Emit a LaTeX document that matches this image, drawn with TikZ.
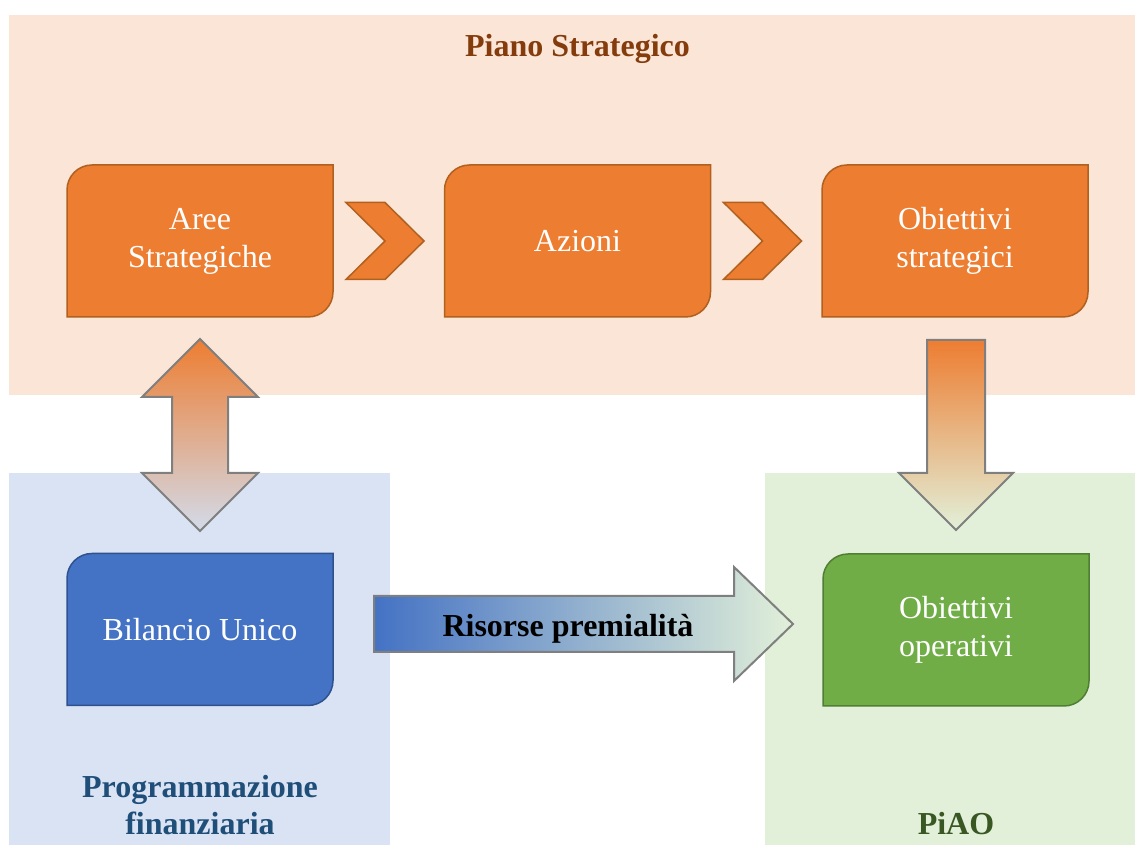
\documentclass[tikz,border=0pt]{standalone}
\usepackage{fontspec}
\setmainfont{Liberation Serif}
\usetikzlibrary{calc,backgrounds}
\definecolor{orangebg}{HTML}{FBE5D6}
\definecolor{bluebg}{HTML}{DAE3F3}
\definecolor{greenbg}{HTML}{E2F0D9}
\definecolor{boxorange}{HTML}{ED7D31}
\definecolor{edgeorange}{HTML}{B0601F}
\definecolor{boxblue}{HTML}{4472C4}
\definecolor{edgeblue}{HTML}{2F528F}
\definecolor{boxgreen}{HTML}{70AD47}
\definecolor{edgegreen}{HTML}{507E32}
\definecolor{titlebrown}{HTML}{843C0C}
\definecolor{titleblue}{HTML}{1F4E79}
\definecolor{titlegreen}{HTML}{385723}
\definecolor{arrowgray}{HTML}{7F7F7F}
\definecolor{arrowblue}{HTML}{D3DBEA}

\begin{document}
\begin{tikzpicture}[x=1pt,y=1pt,
  box/.style={minimum width=266pt,minimum height=152pt,inner sep=0pt,outer sep=0pt,
    align=center,text=white,font=\fontsize{32}{38}\selectfont},
  title/.style={align=center,font=\bfseries\fontsize{32}{37}\selectfont},
  obox/.style={fill=boxorange,draw=edgeorange,line width=1.5pt},
  bbox/.style={fill=boxblue,draw=edgeblue,line width=1.5pt},
  gbox/.style={fill=boxgreen,draw=edgegreen,line width=1.5pt},
  blockarrow/.style={draw=arrowgray,line width=2pt,line join=miter}]
  \useasboundingbox (0,0) rectangle (1135,845);
  % titles
  \node[title,anchor=base,text=titlebrown] (PS) at (577.5,788) {Piano Strategico};
  \node[title,text=titleblue] (PF) at (200,40) {Programmazione\\finanziaria};
  \node[title,anchor=base,text=titlegreen] (PI) at (956,10) {PiAO};
  % boxes
  \node[box] (AS) at (200,604) {Aree\\Strategiche};
  \node[box] (AZ) at (577.5,604) {Azioni};
  \node[box] (OS) at (955,604) {Obiettivi\\strategici};
  \node[box] (BU) at (200,215.5) {Bilancio Unico};
  \node[box] (OO) at (956,215) {Obiettivi\\operativi};
  \begin{scope}[on background layer]
    \fill[orangebg] (9,450) rectangle (1135,830);
    \fill[bluebg] (9,0) rectangle (390,372);
    \fill[greenbg] (765,0) rectangle (1135,372);
    \foreach \n/\s in {AS/obox,AZ/obox,OS/obox,BU/bbox,OO/gbox}
      \draw[\s] (\n.south west) -- ([yshift=-25]\n.north west)
        arc[start angle=180,end angle=90,radius=25] -- (\n.north east)
        -- ([yshift=25]\n.south east) arc[start angle=0,end angle=-90,radius=25] -- cycle;
  \end{scope}
  % chevrons
  \foreach \n in {AS,AZ}
    \draw[obox] ($(\n.east)+(13,38.5)$) -- ++(39,0) -- ++(39,-38.5) -- ++(-39,-38.5)
      -- ++(-39,0) -- ++(39,38.5) -- cycle;
  % block arrows
  \coordinate (T1) at ($(AS.south)+(0,-22)$);
  \shade[blockarrow,top color=boxorange,bottom color=arrowblue] (T1) -- ++(58,-58)
    -- ++(-30,0) -- ++(0,-76) -- ++(30,0) -- ++(-58,-58) -- ++(-58,58) -- ++(30,0)
    -- ++(0,76) -- ++(-30,0) -- cycle;
  \coordinate (T2) at ($(OS.south)+(-28,-23)$);
  \shade[blockarrow,top color=boxorange,bottom color=greenbg] (T2) -- ++(58,0)
    -- ++(0,-133) -- ++(28,0) -- ++(-57,-57) -- ++(-57,57) -- ++(28,0) -- cycle;
  \coordinate (T3) at ($(BU.east)+(41,33.5)$);
  \shade[blockarrow,left color=boxblue,right color=greenbg] (T3) -- ++(360,0)
    -- ++(0,29) -- ++(59,-57) -- ++(-59,-57) -- ++(0,29) -- ++(-360,0) -- cycle;
  \node[anchor=base,font=\bfseries\fontsize{32}{36}\selectfont] (RP) at (568,208)
    {Risorse premialità};
\end{tikzpicture}
\end{document}
